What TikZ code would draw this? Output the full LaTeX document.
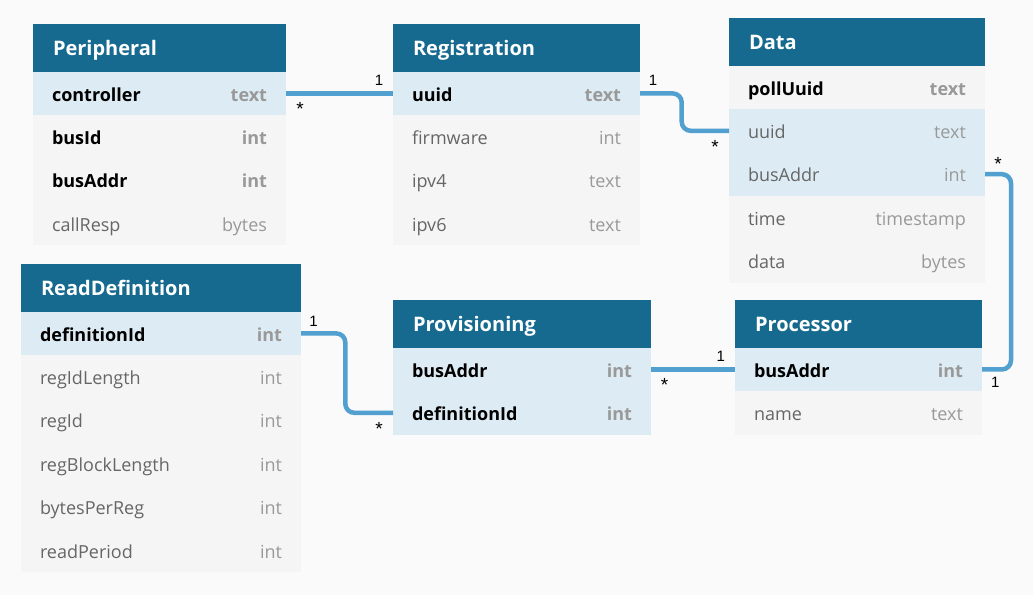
\documentclass[tikz,border=0pt]{standalone}
\usepackage{fontspec}
\setmainfont{Open Sans}
\newfontfamily\cardfont{Liberation Sans}
\usetikzlibrary{positioning}

\definecolor{headblue}{HTML}{166A8F}
\definecolor{keyrow}{HTML}{DDECF4}
\definecolor{plainrow}{HTML}{F5F5F5}
\definecolor{canvas}{HTML}{FAFAFA}
\definecolor{linkblue}{HTML}{52A0CF}
\definecolor{namegray}{HTML}{666666}
\definecolor{typegray}{HTML}{999999}

\newcommand{\flush}{\hskip 0pt plus 1filll}
\newcommand{\keyfld}[2]{\textbf{#1}\flush{\bfseries\color{typegray}#2}}
\newcommand{\plainfld}[2]{{\color{namegray}#1}\flush{\color{typegray}#2}}

\begin{document}
\begin{tikzpicture}[x=1pt, y=-1pt,
    head/.style={anchor=north west, fill=headblue, text=white, font=\fontsize{20}{24}\selectfont\bfseries,
        minimum height=47.7pt, inner xsep=20pt, inner ysep=0pt, outer sep=0pt, align=left,
        text height=14.4pt, text depth=0pt},
    row/.style={below=0pt of #1, fill=plainrow, font=\fontsize{18}{22}\selectfont,
        minimum height=43.4pt, inner xsep=19pt, inner ysep=0pt, outer sep=0pt, align=left,
        text height=15.2pt, text depth=0pt},
    pk/.style={fill=keyrow},
    link/.style={draw=linkblue, line width=4.5pt, rounded corners=9pt},
    one/.style={font=\cardfont\fontsize{15}{18}\selectfont, inner sep=0pt, anchor=base},
    many/.style={font=\cardfont\fontsize{19}{22}\selectfont, inner sep=0pt, anchor=base}]

\fill[canvas] (0,0) rectangle (1033,595);
\useasboundingbox (0,0) rectangle (1033,595);

% Peripheral
\node[head, text width=213pt] (per) at (33,24) {Peripheral};
\node[row=per, pk, text width=215pt] (per-ctrl) {\keyfld{controller}{text}};
\node[row=per-ctrl, text width=215pt] (per-bus) {\keyfld{busId}{int}};
\node[row=per-bus, text width=215pt] (per-addr) {\keyfld{busAddr}{int}};
\node[row=per-addr, text width=215pt] (per-resp) {\plainfld{callResp}{bytes}};

% Registration
\node[head, text width=207pt] (reg) at (393,24) {Registration};
\node[row=reg, pk, text width=209pt] (reg-uuid) {\keyfld{uuid}{text}};
\node[row=reg-uuid, text width=209pt] (reg-fw) {\plainfld{firmware}{int}};
\node[row=reg-fw, text width=209pt] (reg-ip4) {\plainfld{ipv4}{text}};
\node[row=reg-ip4, text width=209pt] (reg-ip6) {\plainfld{ipv6}{text}};

% Data
\node[head, text width=216pt] (dat) at (729,18) {Data};
\node[row=dat, text width=218pt] (dat-poll) {\keyfld{pollUuid}{text}};
\node[row=dat-poll, pk, text width=218pt] (dat-uuid) {\plainfld{uuid}{text}};
\node[row=dat-uuid, pk, text width=218pt] (dat-addr) {\plainfld{busAddr}{int}};
\node[row=dat-addr, text width=218pt] (dat-time) {\plainfld{time}{timestamp}};
\node[row=dat-time, text width=218pt] (dat-data) {\plainfld{data}{bytes}};

% ReadDefinition
\node[head, text width=240pt] (rd) at (21,264) {ReadDefinition};
\node[row=rd, pk, text width=242pt] (rd-def) {\keyfld{definitionId}{int}};
\node[row=rd-def, text width=242pt] (rd-idlen) {\plainfld{regIdLength}{int}};
\node[row=rd-idlen, text width=242pt] (rd-id) {\plainfld{regId}{int}};
\node[row=rd-id, text width=242pt] (rd-blk) {\plainfld{regBlockLength}{int}};
\node[row=rd-blk, text width=242pt] (rd-bpr) {\plainfld{bytesPerReg}{int}};
\node[row=rd-bpr, text width=242pt] (rd-per) {\plainfld{readPeriod}{int}};

% Provisioning
\node[head, text width=218pt] (prov) at (393,300) {Provisioning};
\node[row=prov, pk, text width=220pt] (prov-addr) {\keyfld{busAddr}{int}};
\node[row=prov-addr, pk, text width=220pt] (prov-def) {\keyfld{definitionId}{int}};

% Processor
\node[head, text width=207pt] (proc) at (735,300) {Processor};
\node[row=proc, pk, text width=209pt] (proc-addr) {\keyfld{busAddr}{int}};
\node[row=proc-addr, text width=209pt] (proc-name) {\plainfld{name}{text}};

% relations
\draw[link] (per-ctrl.east) -- (reg-uuid.west);
\draw[link] (reg-uuid.east) -- ++(41.7,0) |- (dat-uuid.west);
\draw[link] (dat-addr.east) -- ++(26,0) |- (proc-addr.east);
\draw[link] (rd-def.east) -- ++(44.3,0) |- (prov-def.west);
\draw[link] (prov-addr.east) -- (proc-addr.west);

% cardinalities
\node[many] (m1) at ([shift={(14,22.5)}]per-ctrl.east) {*};
\node[one] (o1) at ([shift={(-14,-7.5)}]reg-uuid.west) {1};
\node[one] (o2) at ([shift={(13,-8)}]reg-uuid.east) {1};
\node[many] (m2) at ([shift={(-14,23)}]dat-uuid.west) {*};
\node[many] (m3) at ([shift={(13,-3.5)}]dat-addr.east) {*};
\node[one] (o3) at ([shift={(13.4,18.3)}]proc-addr.east) {1};
\node[one] (o4) at ([shift={(12.5,-7.3)}]rd-def.east) {1};
\node[many] (m4) at ([shift={(-14,23)}]prov-def.west) {*};
\node[many] (m5) at ([shift={(13.5,21.7)}]prov-addr.east) {*};
\node[one] (o5) at ([shift={(-14.3,-8.3)}]proc-addr.west) {1};
\end{tikzpicture}
\end{document}
